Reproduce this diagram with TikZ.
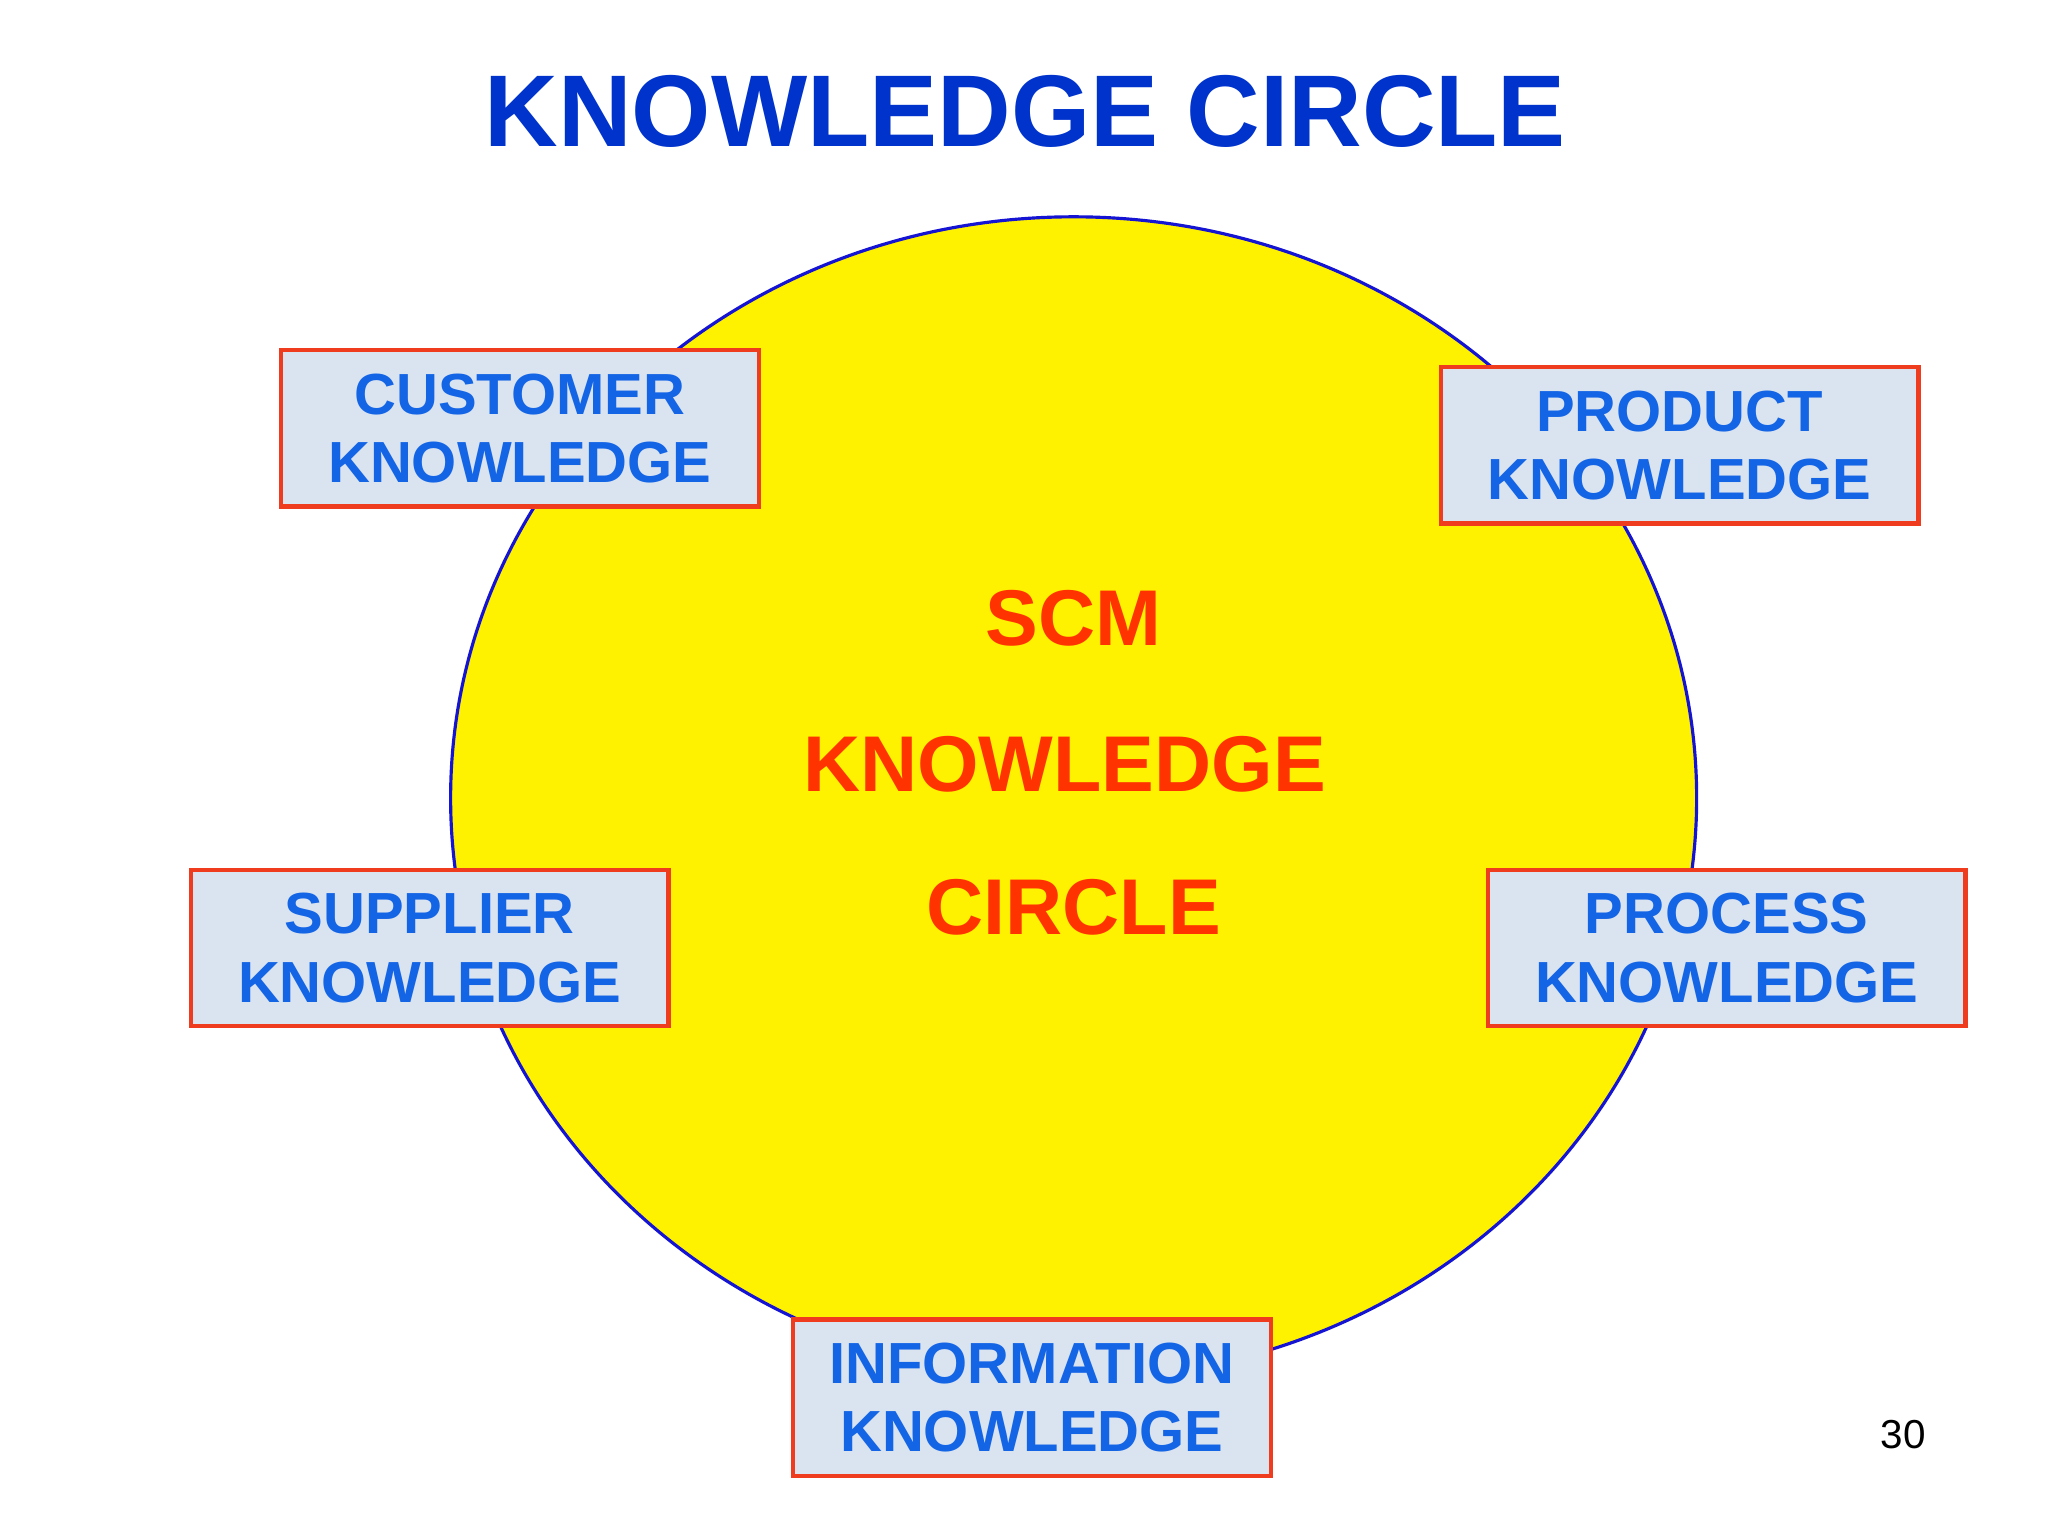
\documentclass[tikz,border=0pt]{standalone}
\usepackage{fontspec}
\setmainfont{Liberation Sans}
\definecolor{titleblue}{RGB}{0,51,204}
\definecolor{boxblue}{RGB}{20,100,230}
\definecolor{boxfill}{RGB}{218,228,240}
\definecolor{boxline}{RGB}{240,60,30}
\definecolor{scmred}{RGB}{255,51,0}
\definecolor{circblue}{RGB}{20,20,210}
\begin{document}
\begin{tikzpicture}[x=0.013061cm,y=-0.013061cm,
  kbox/.style={draw=boxline,line width=1.2pt,fill=boxfill,minimum width=367*0.3703pt,minimum height=120*0.3703pt,
    font=\fontsize{16.5}{19.5}\selectfont\bfseries,text=boxblue,align=center,inner sep=0pt},
  ctext/.style={font=\fontsize{22.5}{27}\selectfont\bfseries,text=scmred}]
\useasboundingbox (0,0) rectangle (1568,1176);
\node[font=\fontsize{29}{34}\selectfont\bfseries,text=titleblue] (title) at (785,85) {KNOWLEDGE CIRCLE};
\draw[circblue,line width=0.9pt,fill=yellow] (822,611) ellipse [x radius=477,y radius=445];
\node[ctext] (scm) at (822,473) {SCM};
\node[ctext] (kn) at (815,585) {KNOWLEDGE};
\node[ctext] (ci) at (822,695) {CIRCLE};
\node[kbox] (cust) at (398,328) {CUSTOMER\\KNOWLEDGE};
\node[kbox] (prod) at (1286,341) {PRODUCT\\KNOWLEDGE};
\node[kbox] (supp) at (329,726) {SUPPLIER\\KNOWLEDGE};
\node[kbox] (proc) at (1322,726) {PROCESS\\KNOWLEDGE};
\node[kbox] (info) at (790,1070) {INFORMATION\\KNOWLEDGE};
\node[font=\fontsize{11.5}{13}\selectfont] (pg) at (1457,1098) {30};
\end{tikzpicture}
\end{document}
